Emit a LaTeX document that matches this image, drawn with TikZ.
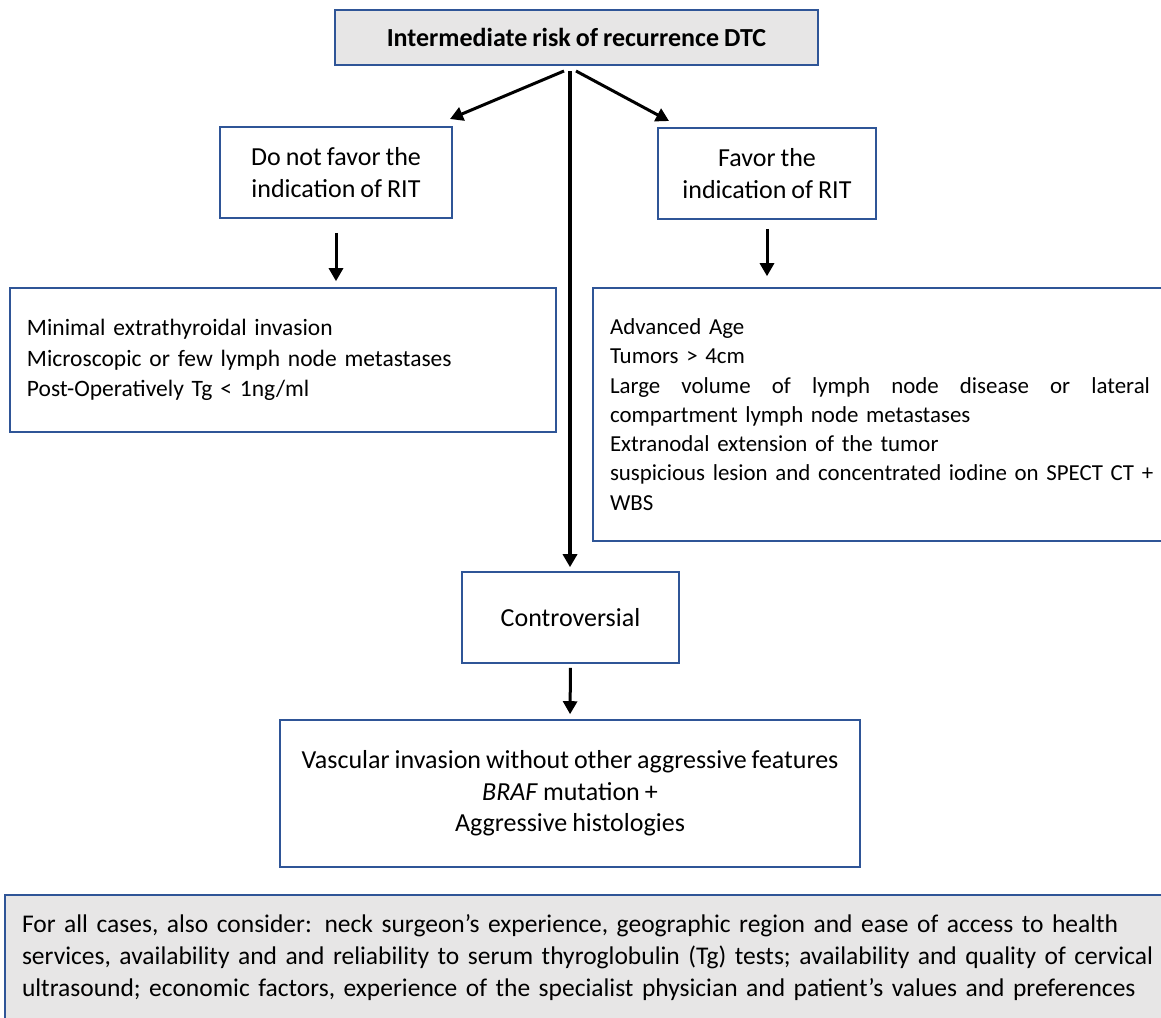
\documentclass[tikz,border=0pt]{standalone}
\usepackage{fontspec}
\setmainfont{Carlito}[WordSpace=0.85]
\usetikzlibrary{arrows.meta,positioning,calc}
\definecolor{boxBlue}{RGB}{47,85,151}
\definecolor{boxGray}{RGB}{231,230,230}
\tikzset{
  box/.style={draw=boxBlue, line width=1.6pt, align=center, inner sep=0pt,
    font=\fontsize{26}{32}\selectfont},
  listbox/.style={box, align=left, inner xsep=17pt},
  arr/.style={line width=3pt, -{Triangle[length=13pt,width=14pt]}}
}
\begin{document}
\begin{tikzpicture}[x=1pt, y=-1pt]
    \useasboundingbox (0,0) rectangle (1161,1017);
    \clip (0,0) rectangle (1161,1017);
    % headline
    \node[box, fill=boxGray, minimum width=483pt, minimum height=55pt,
      font=\fontsize{26}{32}\selectfont\bfseries] (risk) at (576.5, 37.5)
      {Intermediate risk of recurrence DTC};
    % the two branches
    \node[box, minimum width=232pt, minimum height=91pt] (nofav) at (336, 172.5)
      {Do not favor the\\indication of RIT};
    \node[box, minimum width=218pt, minimum height=91pt] (fav) at (767, 173.5)
      {Favor the\\indication of RIT};
    % criteria lists
    \node[listbox, text width=512pt, minimum height=144pt,
      font=\fontsize{23.5}{30.5}\selectfont] (minlist) at (283, 360)
      {Minimal extrathyroidal invasion\\
       Microscopic or few lymph node metastases\\
       Post-Operatively Tg < 1ng/ml};
    \node[listbox, text width=540pt, minimum height=253pt,
      font=\fontsize{22.9}{29.3}\selectfont] (favlist) at (880, 414.5)
      {Advanced Age\\
       Tumors > 4cm\\
       \leavevmode\hbox to 540pt{Large\hfill volume\hfill of\hfill lymph\hfill node\hfill disease\hfill or\hfill lateral}\\
       compartment lymph node metastases\\
       Extranodal extension of the tumor\\
       \mbox{suspicious lesion and concentrated iodine on SPECT CT +}\\
       WBS};
    % middle path
    \node[box, minimum width=217pt, minimum height=91pt] (contro) at (570.5, 617.5)
      {Controversial};
    \node[box, minimum width=580pt, minimum height=147pt,
      font=\fontsize{26}{31.5}\selectfont] (vasc) at (570, 793.5)
      {Vascular invasion without other aggressive features\\
       \textit{BRAF} mutation +\\
       Aggressive histologies};
    % general note
    \node[listbox, fill=boxGray, text width=1136pt, minimum height=126pt,
      font=\fontsize{25.5}{32}\selectfont] (note) at (590, 958)
      {For all cases, also consider: neck surgeon's experience, geographic region and ease of access to health\\
       services, availability and and reliability to serum thyroglobulin (Tg) tests; availability and quality of cervical\\
       ultrasound; economic factors, experience of the specialist physician and patient's values and preferences};
    % connectors
    \coordinate (forkL) at (564, 71);
    \coordinate (forkC) at (570, 71);
    \coordinate (forkR) at (576, 71);
    \coordinate (tipL) at (450, 119);
    \coordinate (tipR) at (669, 121);
    \draw[arr] (forkL) -- (tipL);
    \draw[arr] (forkR) -- (tipR);
    \draw[arr, line width=3.6pt, shorten >=4pt] (forkC) -- (forkC |- contro.north);
    \draw[arr, shorten <=14pt, shorten >=6pt] (nofav.south) -- (nofav.south |- minlist.north);
    \draw[arr, shorten <=9pt, shorten >=11pt] (fav.south) -- (fav.south |- favlist.north);
    \draw[arr, shorten <=4pt, shorten >=5pt] (contro.south) -- (vasc.north);
\end{tikzpicture}
\end{document}
